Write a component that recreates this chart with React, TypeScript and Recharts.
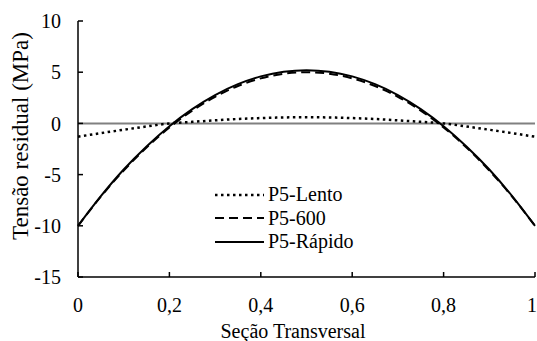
import { LineChart, Line, XAxis, YAxis, ReferenceLine, Legend } from "recharts";

const xs = [0, 0.05, 0.1, 0.15, 0.2, 0.25, 0.3, 0.35, 0.4, 0.45, 0.5, 0.55, 0.6, 0.65, 0.7, 0.75, 0.8, 0.85, 0.9, 0.95, 1];
const lento = [-1.3, -0.95, -0.62, -0.3, 0.0, 0.15, 0.3, 0.43, 0.52, 0.58, 0.6, 0.58, 0.52, 0.43, 0.3, 0.15, 0.0, -0.3, -0.62, -0.95, -1.3];
const p600 = [-10, -7.15, -4.6, -2.35, -0.4, 1.25, 2.6, 3.65, 4.4, 4.85, 5.0, 4.85, 4.4, 3.65, 2.6, 1.25, -0.4, -2.35, -4.6, -7.15, -10];
const rapido = [-10, -7.1, -4.5, -2.25, -0.27, 1.4, 2.77, 3.83, 4.59, 5.05, 5.2, 5.05, 4.59, 3.83, 2.77, 1.4, -0.27, -2.25, -4.5, -7.1, -10];
const seriesOrder = ["P5-Lento", "P5-600", "P5-Rápido"];
const xTicks = [0, 0.2, 0.4, 0.6, 0.8, 1];
const yTicks = [-15, -10, -5, 0, 5, 10];

const rows = xs.map((x, i) => ({ x, lento: lento[i], p600: p600[i], rapido: rapido[i] }));

// serif stack, Times-like metrics first
const font = "'Liberation Serif', 'Times New Roman', Tinos, 'DejaVu Serif', serif";
const tickStyle = { fontSize: 20, fill: "#000", fontFamily: font };

function LegendBox({ payload }: any) {
  const items = [...(payload || [])].sort(
    (a: any, b: any) => seriesOrder.indexOf(a.value) - seriesOrder.indexOf(b.value)
  );
  return (
    <div style={{ fontFamily: font, fontSize: 20, color: "#000", lineHeight: "23.5px" }}>
      {items.map((p: any) => (
        <div key={p.value} style={{ display: "flex", alignItems: "center", height: 23.5 }}>
          <svg width={49} height={10} style={{ marginRight: 4 }}>
            <line
              x1={0}
              y1={5}
              x2={49}
              y2={5}
              stroke="#000"
              strokeWidth={p.payload?.strokeWidth || 2}
              strokeDasharray={p.payload?.strokeDasharray}
            />
          </svg>
          <span>{p.value}</span>
        </div>
      ))}
    </div>
  );
}

export default function App() {
  return (
    <div style={{ position: "absolute", left: 0, top: 0, background: "#fff", fontFamily: font }}>
      <LineChart
        width={537}
        height={341}
        data={rows}
        margin={{ top: 21, right: 2, bottom: 0, left: 18 }}
        style={{ fontFamily: font }}
      >
        <XAxis
          dataKey="x"
          type="number"
          domain={[0, 1]}
          ticks={xTicks}
          tickFormatter={(v: number) => String(v).replace(".", ",")}
          tick={tickStyle}
          tickSize={-5}
          tickMargin={26}
          height={64}
          axisLine={{ stroke: "#000", strokeWidth: 1.5 }}
          tickLine={{ stroke: "#000", strokeWidth: 1.5 }}
          label={{
            content: () => (
              <text x={293} y={338} textAnchor="middle" fontSize={20} style={{ fontFamily: font }} fill="#000">
                Seção Transversal
              </text>
            ),
          }}
        />
        <XAxis
          xAxisId="top"
          orientation="top"
          dataKey="x"
          type="number"
          domain={[0, 1]}
          tick={false}
          tickLine={false}
          height={0}
          axisLine={{ stroke: "#000", strokeWidth: 1.5 }}
        />
        <YAxis
          type="number"
          domain={[-15, 10]}
          ticks={yTicks}
          tick={tickStyle}
          tickSize={-5}
          tickMargin={22}
          width={60}
          axisLine={{ stroke: "#000", strokeWidth: 1.5 }}
          tickLine={{ stroke: "#000", strokeWidth: 1.5 }}
          label={{
            content: () => (
              <text
                x={28}
                y={136}
                transform="rotate(-90 28 136)"
                textAnchor="middle"
                fontSize={23}
                style={{ fontFamily: font }}
                fill="#000"
              >
                Tensão residual (MPa)
              </text>
            ),
          }}
        />
        <YAxis
          yAxisId="right"
          orientation="right"
          type="number"
          domain={[-15, 10]}
          tick={false}
          tickLine={false}
          width={0}
          axisLine={{ stroke: "#000", strokeWidth: 1.5 }}
        />
        <ReferenceLine y={0} stroke="#808080" strokeWidth={2} />
        <Line
          dataKey="lento"
          name="P5-Lento"
          type="monotone"
          stroke="#000"
          strokeWidth={2.5}
          strokeDasharray="2.5 3.5"
          dot={false}
          isAnimationActive={false}
        />
        <Line
          dataKey="p600"
          name="P5-600"
          type="monotone"
          stroke="#000"
          strokeWidth={2}
          strokeDasharray="9 5"
          dot={false}
          isAnimationActive={false}
        />
        <Line
          dataKey="rapido"
          name="P5-Rápido"
          type="monotone"
          stroke="#000"
          strokeWidth={2}
          dot={false}
          isAnimationActive={false}
        />
        <Legend
          layout="vertical"
          align="center"
          verticalAlign="middle"
          content={<LegendBox />}
          wrapperStyle={{ position: "absolute", left: 215, top: 183, width: "auto" }}
        />
      </LineChart>
    </div>
  );
}
